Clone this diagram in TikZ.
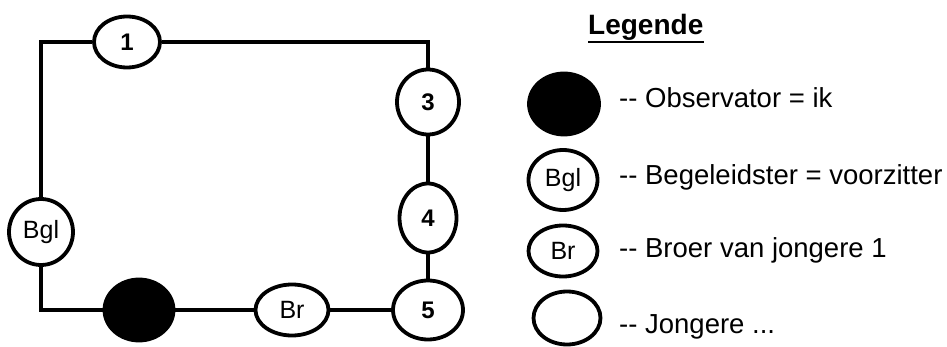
\documentclass[tikz,border=0pt]{standalone}
\usepackage{fontspec}
\setmainfont{Liberation Sans}
\usetikzlibrary{shapes.geometric}
\begin{document}
\begin{tikzpicture}[x=1pt,y=-1pt,
  conn/.style={line width=3.6pt},
  person/.style={ellipse, draw, line width=3.8pt, fill=white, inner sep=0pt,
    font=\fontsize{25}{30}\selectfont},
  obs/.style={person, fill=black},
  num/.style={font=\bfseries\fontsize{24}{28}\selectfont},
  legtext/.style={anchor=base west, inner sep=0pt, font=\fontsize{27.5}{32}\selectfont}]
\useasboundingbox (0,0) rectangle (947,347);

% diagram nodes
\node[person,num,minimum width=66pt,minimum height=51pt] (n1) at (127,42) {1};
\node[person,num,minimum width=62pt,minimum height=65pt] (n3) at (428,102) {3};
\node[person,num,minimum width=57pt,minimum height=69pt] (n4) at (428,218) {4};
\node[person,num,minimum width=70pt,minimum height=59pt] (n5) at (428,310) {5};
\node[person,minimum width=73pt,minimum height=51pt] (br) at (292,310) {Br};
\node[obs,minimum width=69pt,minimum height=61pt] (me) at (139,310) {};
\node[person,minimum width=64pt,minimum height=66pt] (bgl) at (41,232) {Bgl};

% connectors
\draw[conn] (n1) -| (bgl);
\draw[conn] (n1) -| (n3);
\draw[conn] (n3) -- (n4);
\draw[conn] (n4) -- (n5);
\draw[conn] (n5) -- (br);
\draw[conn] (br) -- (me);
\draw[conn] (bgl) |- (me);

% legend
\node[anchor=base west, inner sep=0pt, font=\bfseries\fontsize{28}{34}\selectfont] (leg) at (588,35) {Legende};
\draw[line width=2.8pt] ([yshift=-7pt]leg.base west) -- ([yshift=-7pt]leg.base east);

\node[obs,minimum width=70pt,minimum height=61pt] (lme) at (564,104) {};
\node[person,minimum width=69pt,minimum height=60pt] (lbgl) at (563,180) {Bgl};
\node[person,minimum width=69pt,minimum height=51pt] (lbr) at (563,251) {Br};
\node[person,minimum width=67pt,minimum height=53pt] (lj) at (567,318) {};

\node[legtext] (t1) at (619,108) {-{}- Observator = ik};
\node[legtext] (t2) at (619,185) {-{}- Begeleidster = voorzitter};
\node[legtext] (t3) at (619,258) {-{}- Broer van jongere 1};
\node[legtext] (t4) at (619,333) {-{}- Jongere ...};
\end{tikzpicture}
\end{document}
